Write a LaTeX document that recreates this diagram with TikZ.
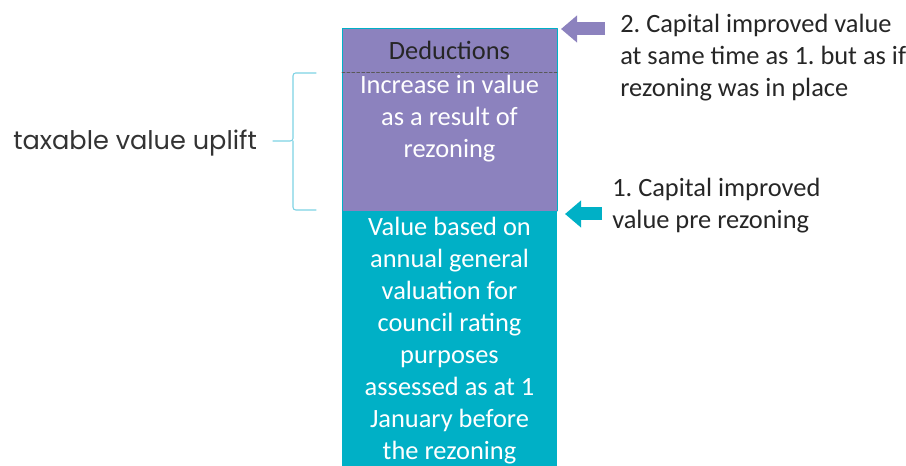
\documentclass[tikz,border=0pt]{standalone}
\usepackage{fontspec}
\setmainfont{Carlito}
\newfontfamily\gothicfont{Poppins}
\usetikzlibrary{arrows.meta, positioning}

\definecolor{lilac}{RGB}{140,130,190}
\definecolor{lagoon}{RGB}{0,176,198}
\definecolor{bracecyan}{RGB}{125,210,228}

\begin{document}
\frenchspacing
\begin{tikzpicture}[x=0.75pt, y=-0.75pt, line cap=round, line join=round]
	%======================
	% STYLES
	%======================
	\tikzset{
		boxtext/.style={align=center, inner sep=0pt, font=\fontsize{19.8}{24}\selectfont},
		note/.style={anchor=west, align=left, inner sep=0pt, text=black!85, font=\fontsize{19.8}{24}\selectfont},
		pointer/.style={line width=9.75pt, line cap=butt, -{Triangle[length=12pt, width=19.5pt]}},
		brace/.style={bracecyan, line width=0.8pt, rounded corners=2pt}
	}
	
	\useasboundingbox (0,0) rectangle (906,466);
	
	% value bands
	\fill[lilac] (342,28) rectangle (557,211);
	\draw[lagoon, line width=0.6pt] (342,211) -- (342,28) -- (557,28) -- (557,211);
	\fill[lagoon] (342,211) rectangle (557,470);
	\draw[dashed, dash pattern=on 2.2pt off 1.5pt, black!65, line width=0.6pt] (342,72) -- (557,72);
	
	% band labels
	\node[boxtext, text=black!85] (deduct) at (449.5,50) {Deductions};
	\node[boxtext, text=white] (uplift) at (449.5,119) {Increase in value\\as a result of\\rezoning};
	\node[boxtext, text=white] (base) at (449.5,341) {Value based on\\annual general\\valuation for\\council rating\\purposes\\assessed as at 1\\January before\\the rezoning};
	
	% notes on the right
	\node[note] (note2) at (620,58) {2. Capital improved value\\at same time as 1. but as if\\rezoning was in place};
	\node[note] (note1) at (612,206) {1. Capital improved\\value pre rezoning};
	
	% pointers
	\coordinate (tail2) at (605,29);
	\coordinate (tip2)  at (561,29);
	\coordinate (tail1) at (602,214);
	\coordinate (tip1)  at (565,214);
	\draw[pointer, lilac] (tail2) -- (tip2);
	\draw[pointer, lagoon] (tail1) -- (tip1);
	
	% bracket and its label
	\node[anchor=west, inner sep=0pt, text=black!80, font=\gothicfont\fontsize{19.2}{22}\selectfont] (tag) at (13,143) {taxable value uplift};
	\coordinate (btop) at (316,73);
	\coordinate (bmid) at (293,141);
	\coordinate (bbot) at (316,210);
	\coordinate (bout) at (273,141);
	\draw[brace] (btop) -| (bmid) -- (bout);
	\draw[brace] (bmid) |- (bbot);
\end{tikzpicture}
\end{document}
